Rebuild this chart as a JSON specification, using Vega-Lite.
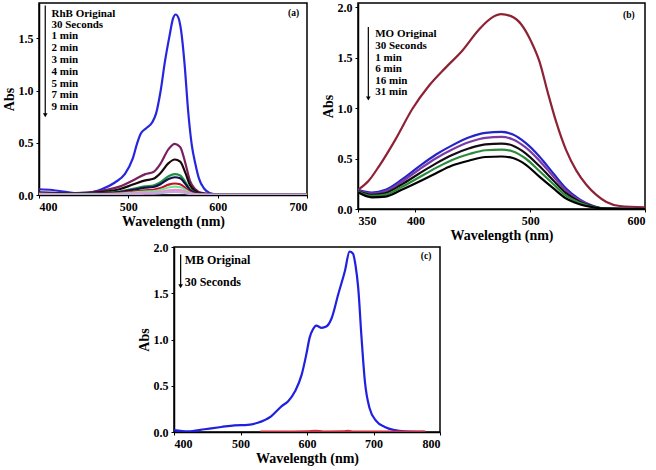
{
  "$schema": "https://vega.github.io/schema/vega-lite/v6.json",
  "background": "white",
  "padding": {"left": 1, "top": 0, "right": 0, "bottom": 0},
  "config": {
    "view": {"stroke": "black", "strokeWidth": 1.5},
    "axis": {
      "grid": false, "domainColor": "black", "domainWidth": 1.5, "tickColor": "black", "tickSize": 3,
      "labelFont": "Liberation Serif", "labelFontWeight": "bold", "labelFontSize": 12, "labelColor": "black", "labelPadding": 3,
      "titleFont": "Liberation Serif", "titleFontWeight": "bold", "titleFontSize": 14, "titleColor": "black", "titlePadding": 2
    },
    "text": {"font": "Liberation Serif", "fontWeight": "bold", "fontSize": 11, "color": "black"},
    "line": {"interpolate": "monotone", "strokeWidth": 2.2}
  },
  "resolve": {"scale": {"color": "independent"}},
  "datasets": {
    "rhb": [
      {"s":"RhB Original","x":400,"y":0.055},{"s":"RhB Original","x":415,"y":0.048},{"s":"RhB Original","x":430,"y":0.03},{"s":"RhB Original","x":445,"y":0.018},{"s":"RhB Original","x":458,"y":0.025},{"s":"RhB Original","x":470,"y":0.055},{"s":"RhB Original","x":485,"y":0.12},{"s":"RhB Original","x":496,"y":0.2},{"s":"RhB Original","x":505,"y":0.35},{"s":"RhB Original","x":510,"y":0.5},{"s":"RhB Original","x":514,"y":0.59},{"s":"RhB Original","x":520,"y":0.64},{"s":"RhB Original","x":527,"y":0.7},{"s":"RhB Original","x":531,"y":0.78},{"s":"RhB Original","x":536,"y":0.99},{"s":"RhB Original","x":541,"y":1.28},{"s":"RhB Original","x":546,"y":1.52},{"s":"RhB Original","x":550,"y":1.69},{"s":"RhB Original","x":553,"y":1.73},{"s":"RhB Original","x":556,"y":1.7},{"s":"RhB Original","x":559,"y":1.58},{"s":"RhB Original","x":563,"y":1.25},{"s":"RhB Original","x":567,"y":0.8},{"s":"RhB Original","x":571,"y":0.48},{"s":"RhB Original","x":575,"y":0.3},{"s":"RhB Original","x":579,"y":0.16},{"s":"RhB Original","x":585,"y":0.06},{"s":"RhB Original","x":591,"y":0.02},{"s":"RhB Original","x":600,"y":0.006},{"s":"RhB Original","x":650,"y":0.004},{"s":"RhB Original","x":700,"y":0.003},
      {"s":"30 Seconds","x":400,"y":0.025},{"s":"30 Seconds","x":440,"y":0.018},{"s":"30 Seconds","x":470,"y":0.04},{"s":"30 Seconds","x":490,"y":0.08},{"s":"30 Seconds","x":505,"y":0.14},{"s":"30 Seconds","x":519,"y":0.2},{"s":"30 Seconds","x":528,"y":0.22},{"s":"30 Seconds","x":536,"y":0.3},{"s":"30 Seconds","x":545,"y":0.44},{"s":"30 Seconds","x":552,"y":0.49},{"s":"30 Seconds","x":558,"y":0.46},{"s":"30 Seconds","x":564,"y":0.3},{"s":"30 Seconds","x":569,"y":0.135},{"s":"30 Seconds","x":575,"y":0.055},{"s":"30 Seconds","x":582,"y":0.02},{"s":"30 Seconds","x":600,"y":0.005},{"s":"30 Seconds","x":700,"y":0.003},
      {"s":"1 min","x":400,"y":0.02},{"s":"1 min","x":440,"y":0.014},{"s":"1 min","x":470,"y":0.028},{"s":"1 min","x":490,"y":0.055},{"s":"1 min","x":505,"y":0.1},{"s":"1 min","x":519,"y":0.14},{"s":"1 min","x":528,"y":0.155},{"s":"1 min","x":536,"y":0.21},{"s":"1 min","x":545,"y":0.305},{"s":"1 min","x":552,"y":0.34},{"s":"1 min","x":558,"y":0.32},{"s":"1 min","x":564,"y":0.21},{"s":"1 min","x":569,"y":0.095},{"s":"1 min","x":575,"y":0.038},{"s":"1 min","x":582,"y":0.014},{"s":"1 min","x":600,"y":0.004},{"s":"1 min","x":700,"y":0.002},
      {"s":"2 min","x":400,"y":0.016},{"s":"2 min","x":440,"y":0.01},{"s":"2 min","x":470,"y":0.018},{"s":"2 min","x":490,"y":0.032},{"s":"2 min","x":505,"y":0.058},{"s":"2 min","x":519,"y":0.082},{"s":"2 min","x":528,"y":0.09},{"s":"2 min","x":536,"y":0.122},{"s":"2 min","x":545,"y":0.18},{"s":"2 min","x":552,"y":0.2},{"s":"2 min","x":558,"y":0.188},{"s":"2 min","x":564,"y":0.122},{"s":"2 min","x":569,"y":0.056},{"s":"2 min","x":575,"y":0.022},{"s":"2 min","x":582,"y":0.008},{"s":"2 min","x":600,"y":0.003},{"s":"2 min","x":700,"y":0.002},
      {"s":"3 min","x":400,"y":0.015},{"s":"3 min","x":440,"y":0.009},{"s":"3 min","x":470,"y":0.015},{"s":"3 min","x":490,"y":0.027},{"s":"3 min","x":505,"y":0.049},{"s":"3 min","x":519,"y":0.07},{"s":"3 min","x":528,"y":0.077},{"s":"3 min","x":536,"y":0.104},{"s":"3 min","x":545,"y":0.153},{"s":"3 min","x":552,"y":0.17},{"s":"3 min","x":558,"y":0.16},{"s":"3 min","x":564,"y":0.104},{"s":"3 min","x":569,"y":0.048},{"s":"3 min","x":575,"y":0.019},{"s":"3 min","x":582,"y":0.007},{"s":"3 min","x":600,"y":0.003},{"s":"3 min","x":700,"y":0.002},
      {"s":"4 min","x":400,"y":0.013},{"s":"4 min","x":440,"y":0.008},{"s":"4 min","x":470,"y":0.011},{"s":"4 min","x":490,"y":0.018},{"s":"4 min","x":505,"y":0.032},{"s":"4 min","x":519,"y":0.045},{"s":"4 min","x":528,"y":0.05},{"s":"4 min","x":536,"y":0.067},{"s":"4 min","x":545,"y":0.099},{"s":"4 min","x":552,"y":0.11},{"s":"4 min","x":558,"y":0.103},{"s":"4 min","x":564,"y":0.067},{"s":"4 min","x":569,"y":0.031},{"s":"4 min","x":575,"y":0.012},{"s":"4 min","x":582,"y":0.005},{"s":"4 min","x":600,"y":0.002},{"s":"4 min","x":700,"y":0.001},
      {"s":"5 min","x":400,"y":0.011},{"s":"5 min","x":440,"y":0.007},{"s":"5 min","x":470,"y":0.008},{"s":"5 min","x":490,"y":0.013},{"s":"5 min","x":505,"y":0.023},{"s":"5 min","x":519,"y":0.033},{"s":"5 min","x":528,"y":0.036},{"s":"5 min","x":536,"y":0.049},{"s":"5 min","x":545,"y":0.072},{"s":"5 min","x":552,"y":0.08},{"s":"5 min","x":558,"y":0.075},{"s":"5 min","x":564,"y":0.049},{"s":"5 min","x":569,"y":0.022},{"s":"5 min","x":575,"y":0.009},{"s":"5 min","x":582,"y":0.004},{"s":"5 min","x":600,"y":0.002},{"s":"5 min","x":700,"y":0.001},
      {"s":"7 min","x":400,"y":0.009},{"s":"7 min","x":440,"y":0.005},{"s":"7 min","x":470,"y":0.005},{"s":"7 min","x":490,"y":0.008},{"s":"7 min","x":505,"y":0.015},{"s":"7 min","x":519,"y":0.021},{"s":"7 min","x":528,"y":0.023},{"s":"7 min","x":536,"y":0.031},{"s":"7 min","x":545,"y":0.045},{"s":"7 min","x":552,"y":0.05},{"s":"7 min","x":558,"y":0.047},{"s":"7 min","x":564,"y":0.031},{"s":"7 min","x":569,"y":0.014},{"s":"7 min","x":575,"y":0.006},{"s":"7 min","x":582,"y":0.003},{"s":"7 min","x":600,"y":0.001},{"s":"7 min","x":700,"y":0.001},
      {"s":"9 min","x":400,"y":0.007},{"s":"9 min","x":440,"y":0.004},{"s":"9 min","x":470,"y":0.003},{"s":"9 min","x":490,"y":0.005},{"s":"9 min","x":505,"y":0.009},{"s":"9 min","x":519,"y":0.012},{"s":"9 min","x":528,"y":0.014},{"s":"9 min","x":536,"y":0.018},{"s":"9 min","x":545,"y":0.027},{"s":"9 min","x":552,"y":0.03},{"s":"9 min","x":558,"y":0.028},{"s":"9 min","x":564,"y":0.018},{"s":"9 min","x":569,"y":0.008},{"s":"9 min","x":575,"y":0.004},{"s":"9 min","x":582,"y":0.002},{"s":"9 min","x":600,"y":0.001},{"s":"9 min","x":700,"y":0.001}
    ],
    "mo": [
      {"s":"MO Original","x":350,"y":0.19},{"s":"MO Original","x":359.3,"y":0.28},{"s":"MO Original","x":368.1,"y":0.42},{"s":"MO Original","x":382.7,"y":0.69},{"s":"MO Original","x":397.3,"y":0.99},{"s":"MO Original","x":411.8,"y":1.22},{"s":"MO Original","x":426.4,"y":1.4},{"s":"MO Original","x":441,"y":1.57},{"s":"MO Original","x":455.6,"y":1.78},{"s":"MO Original","x":467.3,"y":1.9},{"s":"MO Original","x":474.6,"y":1.93},{"s":"MO Original","x":483.3,"y":1.91},{"s":"MO Original","x":492.1,"y":1.83},{"s":"MO Original","x":500.8,"y":1.66},{"s":"MO Original","x":508.1,"y":1.46},{"s":"MO Original","x":515.4,"y":1.15},{"s":"MO Original","x":522.7,"y":0.86},{"s":"MO Original","x":531.4,"y":0.58},{"s":"MO Original","x":540.2,"y":0.38},{"s":"MO Original","x":548.9,"y":0.24},{"s":"MO Original","x":557.6,"y":0.14},{"s":"MO Original","x":566.4,"y":0.07},{"s":"MO Original","x":578.1,"y":0.03},{"s":"MO Original","x":600,"y":0.017},
      {"s":"30 Seconds","x":350,"y":0.19},{"s":"30 Seconds","x":362,"y":0.163},{"s":"30 Seconds","x":374,"y":0.19},{"s":"30 Seconds","x":388,"y":0.29},{"s":"30 Seconds","x":403,"y":0.42},{"s":"30 Seconds","x":418,"y":0.54},{"s":"30 Seconds","x":432,"y":0.63},{"s":"30 Seconds","x":447,"y":0.71},{"s":"30 Seconds","x":461,"y":0.754},{"s":"30 Seconds","x":475,"y":0.764},{"s":"30 Seconds","x":485,"y":0.737},{"s":"30 Seconds","x":496,"y":0.654},{"s":"30 Seconds","x":508,"y":0.52},{"s":"30 Seconds","x":520,"y":0.355},{"s":"30 Seconds","x":531,"y":0.206},{"s":"30 Seconds","x":543,"y":0.096},{"s":"30 Seconds","x":555,"y":0.03},{"s":"30 Seconds","x":564,"y":0.007},{"s":"30 Seconds","x":600,"y":0.0},
      {"s":"1 min","x":350,"y":0.185},{"s":"1 min","x":362,"y":0.153},{"s":"1 min","x":374,"y":0.176},{"s":"1 min","x":388,"y":0.27},{"s":"1 min","x":403,"y":0.389},{"s":"1 min","x":418,"y":0.502},{"s":"1 min","x":432,"y":0.589},{"s":"1 min","x":447,"y":0.663},{"s":"1 min","x":461,"y":0.705},{"s":"1 min","x":475,"y":0.714},{"s":"1 min","x":485,"y":0.689},{"s":"1 min","x":496,"y":0.61},{"s":"1 min","x":508,"y":0.479},{"s":"1 min","x":520,"y":0.324},{"s":"1 min","x":531,"y":0.186},{"s":"1 min","x":543,"y":0.086},{"s":"1 min","x":555,"y":0.027},{"s":"1 min","x":564,"y":0.006},{"s":"1 min","x":600,"y":0.0},
      {"s":"6 min","x":350,"y":0.179},{"s":"6 min","x":362,"y":0.141},{"s":"6 min","x":374,"y":0.158},{"s":"6 min","x":388,"y":0.243},{"s":"6 min","x":403,"y":0.349},{"s":"6 min","x":418,"y":0.452},{"s":"6 min","x":432,"y":0.535},{"s":"6 min","x":447,"y":0.601},{"s":"6 min","x":461,"y":0.64},{"s":"6 min","x":475,"y":0.648},{"s":"6 min","x":485,"y":0.627},{"s":"6 min","x":496,"y":0.552},{"s":"6 min","x":508,"y":0.425},{"s":"6 min","x":520,"y":0.284},{"s":"6 min","x":531,"y":0.159},{"s":"6 min","x":543,"y":0.073},{"s":"6 min","x":555,"y":0.024},{"s":"6 min","x":564,"y":0.005},{"s":"6 min","x":600,"y":0.0},
      {"s":"16 min","x":350,"y":0.173},{"s":"16 min","x":362,"y":0.129},{"s":"16 min","x":374,"y":0.142},{"s":"16 min","x":388,"y":0.218},{"s":"16 min","x":403,"y":0.312},{"s":"16 min","x":418,"y":0.407},{"s":"16 min","x":432,"y":0.486},{"s":"16 min","x":447,"y":0.544},{"s":"16 min","x":461,"y":0.582},{"s":"16 min","x":475,"y":0.588},{"s":"16 min","x":485,"y":0.57},{"s":"16 min","x":496,"y":0.5},{"s":"16 min","x":508,"y":0.376},{"s":"16 min","x":520,"y":0.248},{"s":"16 min","x":531,"y":0.134},{"s":"16 min","x":543,"y":0.061},{"s":"16 min","x":555,"y":0.021},{"s":"16 min","x":564,"y":0.004},{"s":"16 min","x":600,"y":0.0},
      {"s":"31 min","x":350,"y":0.166},{"s":"31 min","x":362,"y":0.116},{"s":"31 min","x":374,"y":0.123},{"s":"31 min","x":388,"y":0.19},{"s":"31 min","x":403,"y":0.27},{"s":"31 min","x":418,"y":0.355},{"s":"31 min","x":432,"y":0.43},{"s":"31 min","x":447,"y":0.48},{"s":"31 min","x":461,"y":0.515},{"s":"31 min","x":475,"y":0.52},{"s":"31 min","x":485,"y":0.505},{"s":"31 min","x":496,"y":0.44},{"s":"31 min","x":508,"y":0.32},{"s":"31 min","x":520,"y":0.206},{"s":"31 min","x":531,"y":0.106},{"s":"31 min","x":543,"y":0.047},{"s":"31 min","x":555,"y":0.017},{"s":"31 min","x":564,"y":0.003},{"s":"31 min","x":600,"y":0.0}
    ],
    "mb": [
      {"s":"MB Original","x":400,"y":0.02},{"s":"MB Original","x":421,"y":0.006},{"s":"MB Original","x":446,"y":0.03},{"s":"MB Original","x":471,"y":0.054},{"s":"MB Original","x":491,"y":0.072},{"s":"MB Original","x":511,"y":0.078},{"s":"MB Original","x":526,"y":0.1},{"s":"MB Original","x":546,"y":0.17},{"s":"MB Original","x":562,"y":0.28},{"s":"MB Original","x":572,"y":0.335},{"s":"MB Original","x":582,"y":0.44},{"s":"MB Original","x":592,"y":0.62},{"s":"MB Original","x":599,"y":0.84},{"s":"MB Original","x":604,"y":1.02},{"s":"MB Original","x":609,"y":1.11},{"s":"MB Original","x":614,"y":1.15},{"s":"MB Original","x":622,"y":1.126},{"s":"MB Original","x":629,"y":1.14},{"s":"MB Original","x":637,"y":1.23},{"s":"MB Original","x":647,"y":1.49},{"s":"MB Original","x":657,"y":1.74},{"s":"MB Original","x":664,"y":1.95},{"s":"MB Original","x":669,"y":1.93},{"s":"MB Original","x":673,"y":1.8},{"s":"MB Original","x":677,"y":1.56},{"s":"MB Original","x":682,"y":1.02},{"s":"MB Original","x":687,"y":0.55},{"s":"MB Original","x":694,"y":0.26},{"s":"MB Original","x":704,"y":0.12},{"s":"MB Original","x":717,"y":0.054},{"s":"MB Original","x":732,"y":0.02},{"s":"MB Original","x":747,"y":0.007},{"s":"MB Original","x":777,"y":0.001},
      {"s":"30 Seconds","x":530,"y":0.004},{"s":"30 Seconds","x":560,"y":0.005},{"s":"30 Seconds","x":600,"y":0.006},{"s":"30 Seconds","x":612,"y":0.012},{"s":"30 Seconds","x":625,"y":0.005},{"s":"30 Seconds","x":655,"y":0.007},{"s":"30 Seconds","x":662,"y":0.012},{"s":"30 Seconds","x":670,"y":0.005},{"s":"30 Seconds","x":720,"y":0.004},{"s":"30 Seconds","x":778,"y":0.003}
    ]
  },
  "vconcat": [
    {
      "resolve": {"scale": {"color": "independent"}},
      "hconcat": [
        {
          "width": 268, "height": 192,
          "layer": [
            {
              "data": {"name": "rhb"},
              "mark": {"type": "line", "clip": true},
              "encoding": {
                "x": {"field": "x", "type": "quantitative", "scale": {"domain": [400, 700], "nice": false}, "axis": {"values": [400, 500, 600, 700], "title": "Wavelength (nm)"}},
                "y": {"field": "y", "type": "quantitative", "scale": {"domain": [0, 1.84], "nice": false}, "axis": {"values": [0, 0.5, 1, 1.5], "format": ".1f", "title": "Abs"}},
                "color": {"field": "s", "type": "nominal", "legend": null, "sort": null,
                  "scale": {"domain": ["RhB Original", "30 Seconds", "1 min", "2 min", "3 min", "4 min", "5 min", "7 min", "9 min"],
                            "range": ["#2626e0", "#7a2060", "#1a0808", "#1f9040", "#10104a", "#c0102c", "#70e890", "#f08cc8", "#c0a8e0"]}}
              }
            },
            {
              "data": {"values": [
                {"t": "RhB Original", "x": 414, "y": 1.737}, {"t": "30 Seconds", "x": 414, "y": 1.628},
                {"t": "1 min", "x": 414, "y": 1.52}, {"t": "2 min", "x": 414, "y": 1.405},
                {"t": "3 min", "x": 414, "y": 1.29}, {"t": "4 min", "x": 414, "y": 1.181},
                {"t": "5 min", "x": 414, "y": 1.066}, {"t": "7 min", "x": 414, "y": 0.954},
                {"t": "9 min", "x": 414, "y": 0.842}
              ]},
              "mark": {"type": "text", "align": "left", "baseline": "middle"},
              "encoding": {"x": {"field": "x", "type": "quantitative"}, "y": {"field": "y", "type": "quantitative"}, "text": {"field": "t"}}
            },
            {
              "data": {"values": [{"t": "(a)", "x": 685, "y": 1.74}]},
              "mark": {"type": "text", "align": "center", "baseline": "middle", "fontSize": 9.5},
              "encoding": {"x": {"field": "x", "type": "quantitative"}, "y": {"field": "y", "type": "quantitative"}, "text": {"field": "t"}}
            },
            {
              "data": {"values": [{"x": 407, "y": 1.817, "y2": 0.77}]},
              "mark": {"type": "rule", "color": "black", "strokeWidth": 1.2},
              "encoding": {"x": {"field": "x", "type": "quantitative"}, "y": {"field": "y", "type": "quantitative"}, "y2": {"field": "y2"}}
            },
            {
              "data": {"values": [{"x": 407, "y": 0.765}]},
              "mark": {"type": "point", "shape": "triangle-down", "filled": true, "color": "black", "size": 22, "opacity": 1},
              "encoding": {"x": {"field": "x", "type": "quantitative"}, "y": {"field": "y", "type": "quantitative"}}
            }
          ]
        },
        {
          "width": 287, "height": 206,
          "layer": [
            {
              "data": {"name": "mo"},
              "mark": {"type": "line", "clip": true},
              "encoding": {
                "x": {"field": "x", "type": "quantitative", "scale": {"domain": [350, 600], "nice": false}, "axis": {"values": [350, 400, 500, 600], "title": "Wavelength (nm)"}},
                "y": {"field": "y", "type": "quantitative", "scale": {"domain": [0, 2.04], "nice": false}, "axis": {"values": [0, 0.5, 1, 1.5, 2], "format": ".1f", "title": "Abs"}},
                "color": {"field": "s", "type": "nominal", "legend": null, "sort": null,
                  "scale": {"domain": ["MO Original", "30 Seconds", "1 min", "6 min", "16 min", "31 min"],
                            "range": ["#8e2234", "#2424c8", "#7a3aa8", "#140a14", "#2a8c3a", "#000000"]}}
              }
            },
            {
              "data": {"values": [
                {"t": "MO Original", "x": 365, "y": 1.731}, {"t": "30 Seconds", "x": 365, "y": 1.615},
                {"t": "1 min", "x": 365, "y": 1.5}, {"t": "6 min", "x": 365, "y": 1.385},
                {"t": "16 min", "x": 365, "y": 1.269}, {"t": "31 min", "x": 365, "y": 1.154}
              ]},
              "mark": {"type": "text", "align": "left", "baseline": "middle"},
              "encoding": {"x": {"field": "x", "type": "quantitative"}, "y": {"field": "y", "type": "quantitative"}, "text": {"field": "t"}}
            },
            {
              "data": {"values": [{"t": "(b)", "x": 586, "y": 1.92}]},
              "mark": {"type": "text", "align": "center", "baseline": "middle", "fontSize": 9.5},
              "encoding": {"x": {"field": "x", "type": "quantitative"}, "y": {"field": "y", "type": "quantitative"}, "text": {"field": "t"}}
            },
            {
              "data": {"values": [{"x": 359, "y": 1.803, "y2": 1.1}]},
              "mark": {"type": "rule", "color": "black", "strokeWidth": 1.2},
              "encoding": {"x": {"field": "x", "type": "quantitative"}, "y": {"field": "y", "type": "quantitative"}, "y2": {"field": "y2"}}
            },
            {
              "data": {"values": [{"x": 359, "y": 1.095}]},
              "mark": {"type": "point", "shape": "triangle-down", "filled": true, "color": "black", "size": 22, "opacity": 1},
              "encoding": {"x": {"field": "x", "type": "quantitative"}, "y": {"field": "y", "type": "quantitative"}}
            }
          ]
        }
      ],
      "spacing": 11
    },
    {
      "resolve": {"scale": {"color": "independent"}},
      "hconcat": [
        {
          "width": 97, "height": 10, "view": {"stroke": null},
          "data": {"values": []},
          "mark": "point"
        },
        {
          "width": 266, "height": 185,
          "layer": [
            {
              "data": {"name": "mb"},
              "mark": {"type": "line", "clip": true},
              "encoding": {
                "x": {"field": "x", "type": "quantitative", "scale": {"domain": [400, 800], "nice": false}, "axis": {"values": [400, 500, 600, 700, 800], "title": "Wavelength (nm)"}},
                "y": {"field": "y", "type": "quantitative", "scale": {"domain": [0, 2], "nice": false}, "axis": {"values": [0, 0.5, 1, 1.5, 2], "format": ".1f", "title": "Abs"}},
                "color": {"field": "s", "type": "nominal", "legend": null, "sort": null,
                  "scale": {"domain": ["MB Original", "30 Seconds"], "range": ["#2020e0", "#c83040"]}}
              }
            },
            {
              "data": {"values": [{"t": "MB Original", "x": 416, "y": 1.862}, {"t": "30 Seconds", "x": 416, "y": 1.618}]},
              "mark": {"type": "text", "align": "left", "baseline": "middle", "fontSize": 12},
              "encoding": {"x": {"field": "x", "type": "quantitative"}, "y": {"field": "y", "type": "quantitative"}, "text": {"field": "t"}}
            },
            {
              "data": {"values": [{"t": "(c)", "x": 779, "y": 1.9}]},
              "mark": {"type": "text", "align": "center", "baseline": "middle", "fontSize": 9.5},
              "encoding": {"x": {"field": "x", "type": "quantitative"}, "y": {"field": "y", "type": "quantitative"}, "text": {"field": "t"}}
            },
            {
              "data": {"values": [{"x": 410, "y": 1.92, "y2": 1.58}]},
              "mark": {"type": "rule", "color": "black", "strokeWidth": 1.2},
              "encoding": {"x": {"field": "x", "type": "quantitative"}, "y": {"field": "y", "type": "quantitative"}, "y2": {"field": "y2"}}
            },
            {
              "data": {"values": [{"x": 410, "y": 1.575}]},
              "mark": {"type": "point", "shape": "triangle-down", "filled": true, "color": "black", "size": 22, "opacity": 1},
              "encoding": {"x": {"field": "x", "type": "quantitative"}, "y": {"field": "y", "type": "quantitative"}}
            }
          ]
        }
      ],
      "spacing": 0
    }
  ],
  "spacing": -3
}
